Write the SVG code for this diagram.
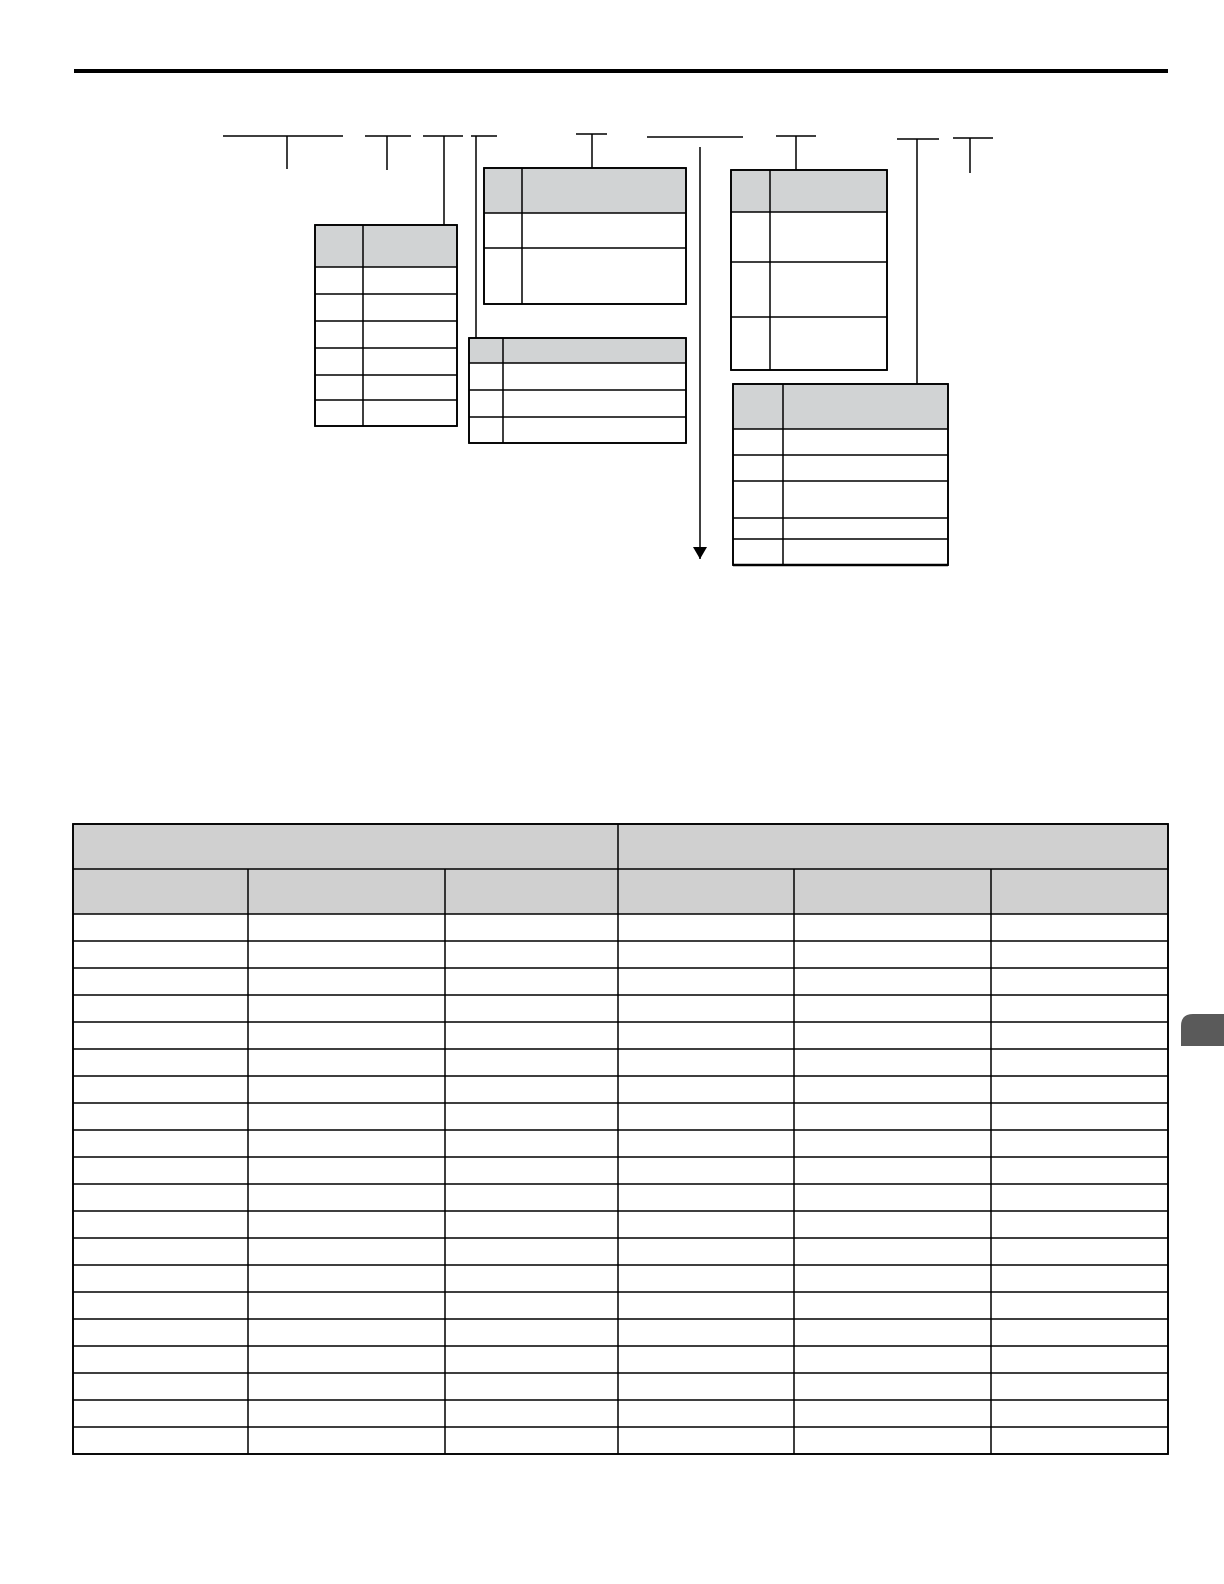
<svg xmlns="http://www.w3.org/2000/svg" width="1224" height="1584" viewBox="0 0 1224 1584">
<style>
.ln{stroke:#000;stroke-width:1.5;fill:none}
.bx{stroke:#000;stroke-width:1.6;fill:#fff}
.hd{fill:#d1d3d4;stroke:none}
.hd2{fill:#d0d0d0;stroke:none}
.gl{stroke:#000;stroke-width:1.5}
</style>
<defs>
<marker id="arr" markerWidth="12" markerHeight="14" refX="12" refY="7" orient="auto" markerUnits="userSpaceOnUse" viewBox="0 0 12 14">
<path d="M0,0 L12,7 L0,14 Z" fill="#000"/>
</marker>
</defs>
<rect width="1224" height="1584" fill="#fff"/>
<rect x="74" y="69" width="1094" height="4" fill="#000"/>
<path d="M1181,1046 V1026 Q1181,1014 1193,1014 H1224 V1046 Z" fill="#5a5a5a"/>

<g id="connectors">
<path class="ln" d="M223,136 H343 M287,136 V169"/>
<path class="ln" d="M365,136 H411 M387,136 V170"/>
<path class="ln" d="M423,136 H463 M444,136 V225"/>
<path class="ln" d="M471,136 H497 M476,136 V338"/>
<path class="ln" d="M576,134 H607 M592,134 V168"/>
<path class="ln" d="M647,137 H743"/>
<line class="ln" x1="700" y1="147" x2="700" y2="559" marker-end="url(#arr)"/>
<path class="ln" d="M776,136 H816 M796,136 V170"/>
<path class="ln" d="M897,139 H939 M917,139 V384"/>
<path class="ln" d="M953,138 H993 M970,138 V173"/>
</g>

<g id="table1">
<rect class="bx" x="315" y="225" width="142" height="201"/>
<rect class="hd" x="316" y="226" width="140" height="41"/>
<path class="gl" d="M315,267 H457 M315,294 H457 M315,321 H457 M315,348 H457 M315,375 H457 M315,400 H457 M363,225 V426"/>
<rect x="315" y="225" width="142" height="201" fill="none" stroke="#000" stroke-width="1.6"/>
</g>

<g id="table2">
<rect class="bx" x="484" y="168" width="202" height="136"/>
<rect class="hd" x="485" y="169" width="200" height="44"/>
<path class="gl" d="M484,213 H686 M484,248 H686 M522,168 V304"/>
<rect x="484" y="168" width="202" height="136" fill="none" stroke="#000" stroke-width="1.6"/>
</g>

<g id="table3">
<rect class="bx" x="731" y="170" width="156" height="200"/>
<rect class="hd" x="732" y="171" width="154" height="41"/>
<path class="gl" d="M731,212 H887 M731,262 H887 M731,317 H887 M770,170 V370"/>
<rect x="731" y="170" width="156" height="200" fill="none" stroke="#000" stroke-width="1.6"/>
</g>

<g id="table4">
<rect class="bx" x="469" y="338" width="217" height="105"/>
<rect class="hd" x="470" y="339" width="215" height="24"/>
<path class="gl" d="M469,363 H686 M469,390 H686 M469,417 H686 M503,338 V443"/>
<rect x="469" y="338" width="217" height="105" fill="none" stroke="#000" stroke-width="1.6"/>
</g>

<g id="table5">
<rect class="bx" x="733" y="384" width="215" height="181"/>
<rect class="hd" x="734" y="385" width="213" height="44"/>
<path class="gl" d="M733,429 H948 M733,455 H948 M733,481 H948 M733,518 H948 M733,539 H948 M783,384 V565"/>
<rect x="733" y="384" width="215" height="181" fill="none" stroke="#000" stroke-width="1.6"/>
<line x1="733" y1="565" x2="948" y2="565" stroke="#000" stroke-width="2.4"/>
</g>

<g id="bottom-table">
<rect class="bx" x="73" y="824" width="1095" height="630"/>
<rect class="hd2" x="74" y="825" width="1093" height="89"/>
<path class="gl" d="M73,869 H1168 M73,914 H1168"/>
<path class="gl" d="M73,941 H1168 M73,968 H1168 M73,995 H1168 M73,1022 H1168 M73,1049 H1168 M73,1076 H1168 M73,1103 H1168 M73,1130 H1168 M73,1157 H1168 M73,1184 H1168 M73,1211 H1168 M73,1238 H1168 M73,1265 H1168 M73,1292 H1168 M73,1319 H1168 M73,1346 H1168 M73,1373 H1168 M73,1400 H1168 M73,1427 H1168"/>
<path class="gl" d="M618,824 V1454 M248,869 V1454 M445,869 V1454 M794,869 V1454 M991,869 V1454"/>
<rect x="73" y="824" width="1095" height="630" fill="none" stroke="#000" stroke-width="1.6"/>
</g>
</svg>
